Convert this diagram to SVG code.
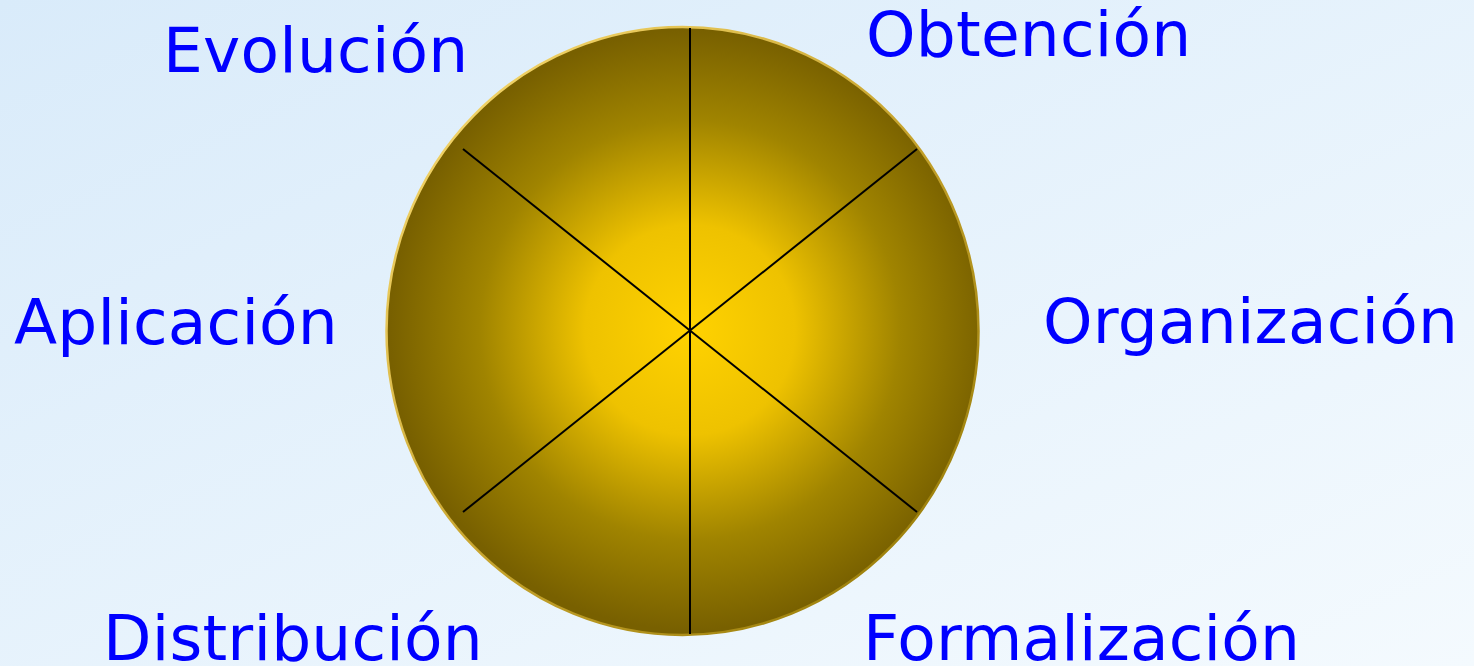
<svg xmlns="http://www.w3.org/2000/svg" width="1474" height="666" viewBox="0 0 1474 666">
  <defs>
    <linearGradient id="bg" x1="0" y1="0" x2="1" y2="1">
      <stop offset="0" stop-color="#D9EBFA"/>
      <stop offset="1" stop-color="#F4FAFE"/>
    </linearGradient>
    <radialGradient id="ball" cx="690" cy="330" r="300" gradientUnits="userSpaceOnUse">
      <stop offset="0" stop-color="#FFD200"/>
      <stop offset="0.35" stop-color="#EEC200"/>
      <stop offset="0.7" stop-color="#A08400"/>
      <stop offset="1" stop-color="#786000"/>
    </radialGradient>
    <linearGradient id="rim" x1="0" y1="0" x2="1" y2="1">
      <stop offset="0" stop-color="#FFE27A"/>
      <stop offset="0.5" stop-color="#C9A630"/>
      <stop offset="1" stop-color="#8F7500"/>
    </linearGradient>
    <style>
      .lbl { font-family: "DejaVu Sans", Verdana, sans-serif; font-size: 63px; letter-spacing: 0.2px; fill: #0000FF; }
      .spoke { stroke: #000000; stroke-width: 2; fill: none; }
    </style>
  </defs>
  <rect x="0" y="0" width="1474" height="666" fill="url(#bg)"/>
  <g id="wheel">
    <ellipse cx="682.5" cy="331" rx="296" ry="304" fill="url(#ball)" stroke="url(#rim)" stroke-width="2.5"/>
  </g>
  <g id="connectors">
    <line class="spoke" x1="690" y1="28" x2="690" y2="634"/>
    <line class="spoke" x1="463" y1="149" x2="917" y2="512"/>
    <line class="spoke" x1="917" y1="149" x2="463" y2="512"/>
  </g>
  <g id="evolucion"><text class="lbl" x="163" y="72">Evolución</text></g>
  <g id="obtencion"><text class="lbl" x="866" y="56">Obtención</text></g>
  <g id="aplicacion"><text class="lbl" x="14" y="344">Aplicación</text></g>
  <g id="organizacion"><text class="lbl" x="1043" y="343">Organización</text></g>
  <g id="distribucion"><text class="lbl" x="103" y="660">Distribución</text></g>
  <g id="formalizacion"><text class="lbl" x="863" y="660">Formalización</text></g>
</svg>
